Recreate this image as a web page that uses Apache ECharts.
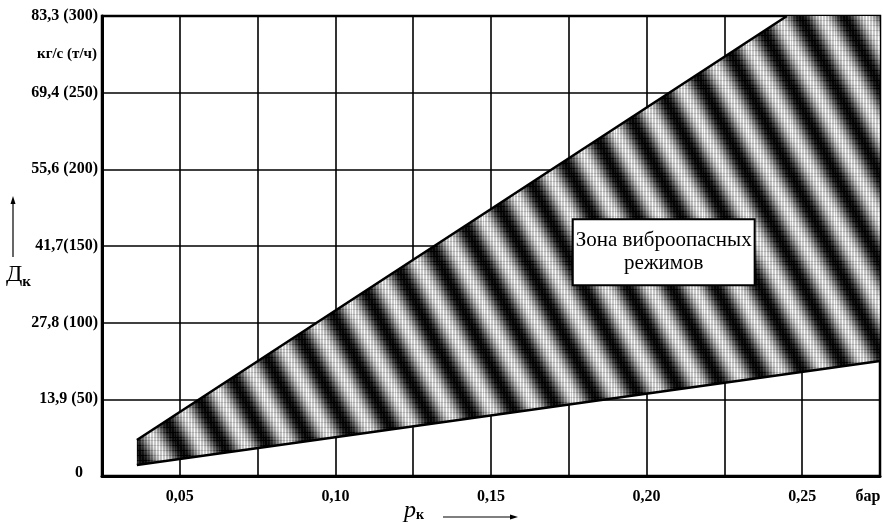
<!DOCTYPE html>
<html>
<head>
<meta charset="utf-8">
<script src="https://cdn.jsdelivr.net/npm/echarts@6/dist/echarts.min.js"></script>
<style>
html,body{margin:0;padding:0;background:#fff;}
#chart{width:884px;height:523px;}
</style>
</head>
<body>
<div id="chart"></div>
<script>
// ---- data ----
var yTickValues = [0, 50, 100, 150, 200, 250, 300];
var yTickLabels = ['0', '13,9 (50)', '27,8 (100)', '41,7(150)', '55,6 (200)', '69,4 (250)', '83,3 (300)'];
var yUnitValue = 275;
var yUnitLabel = 'кг/с (т/ч)';
var xTickValues = [0.05, 0.10, 0.15, 0.20, 0.25];
var xTickLabels = ['0,05', '0,10', '0,15', '0,20', '0,25'];
var xUnitLabel = 'бар';
// zone polygon (p_к, бар ; Д_к, т/ч)
var zoneX = [0.0362, 0.2451, 0.275, 0.275, 0.0362];
var zoneY = [23.5, 300, 300, 75, 7.2];
// boundary lines
var upperX = [0.0362, 0.2451];
var upperY = [23.5, 300];
var lowerX = [0.0362, 0.275];
var lowerY = [7.2, 75];
var zoneLabel = 'Зона виброопасных\nрежимов';
var zoneLabelPos = [0.2055, 146];

function makeTexture() {
  var W = 44, H = 88;
  var c = document.createElement('canvas');
  c.width = W; c.height = H;
  var g = c.getContext('2d');
  var img = g.createImageData(W, H);
  for (var y = 0; y < H; y++) {
    for (var x = 0; x < W; x++) {
      var ph = (((x - y * 0.5) % W) + W) % W / W;
      var band = 0.5 + 0.5 * Math.cos(2 * Math.PI * ph); // 1 = dark
      var v = 200 - band * 195;
      if (x % 3 === 0) v += 50 * (1 - band * 0.6);
      if (y % 5 === 0) v -= 30;
      v = Math.max(0, Math.min(255, v));
      var k = (y * W + x) * 4;
      img.data[k] = img.data[k + 1] = img.data[k + 2] = v;
      img.data[k + 3] = 255;
    }
  }
  g.putImageData(img, 0, 0);
  return c;
}
var texture = makeTexture();

function fmtX(v) {
  var k = Math.round(v * 1000);
  if (k === 275) return '{u|' + xUnitLabel + '}';
  for (var i = 0; i < xTickValues.length; i++) {
    if (Math.round(xTickValues[i] * 1000) === k) return xTickLabels[i];
  }
  return '';
}
function fmtY(v) {
  var i = yTickValues.indexOf(Math.round(v));
  if (i < 0) return '';
  if (i === 0) return '{z|' + yTickLabels[0] + '}';
  return yTickLabels[i];
}

var chart = echarts.init(document.getElementById('chart'), null, {renderer: 'canvas'});
var serif = '"Liberation Serif", "DejaVu Serif", serif';
var option = {
  animation: false,
  backgroundColor: '#fff',
  grid: {left: 102, right: 4, top: 16, bottom: 47, show: true, borderColor: '#000', borderWidth: 2.5,
    backgroundColor: 'transparent', containLabel: false, outerBoundsMode: 'none'},
  xAxis: {
    type: 'value', min: 0.025, max: 0.275, interval: 0.025,
    axisLine: {show: true, onZero: false, lineStyle: {color: '#000', width: 3}},
    axisTick: {show: false},
    splitLine: {show: true, lineStyle: {color: '#000', width: 1.6}},
    axisLabel: {formatter: fmtX, color: '#000', fontFamily: serif, fontWeight: 'bold', fontSize: 16, margin: 13,
      showMinLabel: true, showMaxLabel: true, align: 'center', hideOverlap: false,
      rich: {u: {fontFamily: serif, fontWeight: 'bold', fontSize: 16, color: '#000', padding: [0, 24, 0, 0]}}}
  },
  yAxis: [{
    type: 'value', min: 0, max: 300, interval: 50,
    axisLine: {show: true, onZero: false, lineStyle: {color: '#000', width: 3}},
    axisTick: {show: false},
    splitLine: {show: true, lineStyle: {color: '#000', width: 1.6}},
    axisLabel: {formatter: fmtY, color: '#000', fontFamily: serif, fontWeight: 'bold', fontSize: 16, margin: 4,
      rich: {z: {fontFamily: serif, fontWeight: 'bold', fontSize: 16, color: '#000', padding: [0, 15, 6, 0]}}}
  }, {
    type: 'value', min: 0, max: 300, interval: 25, position: 'left',
    axisLine: {show: false}, axisTick: {show: false}, splitLine: {show: false},
    axisLabel: {formatter: function (v) { return Math.round(v) === yUnitValue ? yUnitLabel : ''; },
      color: '#000', fontFamily: serif, fontWeight: 'bold', fontSize: 15, margin: 5}
  }],
  series: [{
    type: 'custom',
    data: [0],
    renderItem: function (params, api) {
      var pts = zoneX.map(function (x, i) { return api.coord([x, zoneY[i]]); });
      return {type: 'polygon', shape: {points: pts}, style: {fill: {image: texture, repeat: 'repeat'}, stroke: null}};
    },
    z: 3
  }, {
    type: 'line', symbol: 'none', z: 4,
    data: upperX.map(function (x, i) { return [x, upperY[i]]; }),
    lineStyle: {color: '#000', width: 2.5}
  }, {
    type: 'line', symbol: 'none', z: 4,
    data: lowerX.map(function (x, i) { return [x, lowerY[i]]; }),
    lineStyle: {color: '#000', width: 2.5}
  }, {
    type: 'scatter', symbolSize: 0, z: 6,
    itemStyle: {opacity: 1},
    data: [zoneLabelPos],
    label: {show: true, position: 'inside', formatter: zoneLabel, color: '#000', fontFamily: serif, fontSize: 21, lineHeight: 23,
      opacity: 1, backgroundColor: '#fff', borderColor: '#000', borderWidth: 2, padding: [9, 2, 9, 2], align: 'center', verticalAlign: 'middle'}
  }],
  graphic: [
    {type: 'text', left: 6, top: 263, style: {text: '{a|Д}{b|к}', rich: {a: {fontFamily: serif, fontSize: 24, fill: '#000'}, b: {fontFamily: serif, fontSize: 15, fontWeight: 'bold', fill: '#000', padding: [14, 0, 0, 0]}}}},
    {type: 'line', shape: {x1: 13, y1: 257, x2: 13, y2: 202}, style: {stroke: '#000', lineWidth: 1.2}},
    {type: 'polygon', shape: {points: [[13, 196], [10.5, 204], [15.5, 204]]}, style: {fill: '#000'}},
    {type: 'text', left: 404, top: 499, style: {text: '{a|p}{b|к}', rich: {a: {fontFamily: serif, fontSize: 24, fontStyle: 'italic', fill: '#000'}, b: {fontFamily: serif, fontSize: 14, fontWeight: 'bold', fill: '#000', padding: [8, 0, 0, 0]}}}},
    {type: 'line', shape: {x1: 443, y1: 517, x2: 511, y2: 517}, style: {stroke: '#000', lineWidth: 1.2}},
    {type: 'polygon', shape: {points: [[518, 517], [510, 514.5], [510, 519.5]]}, style: {fill: '#000'}}
  ]
};
chart.setOption(option);
</script>
</body>
</html>
